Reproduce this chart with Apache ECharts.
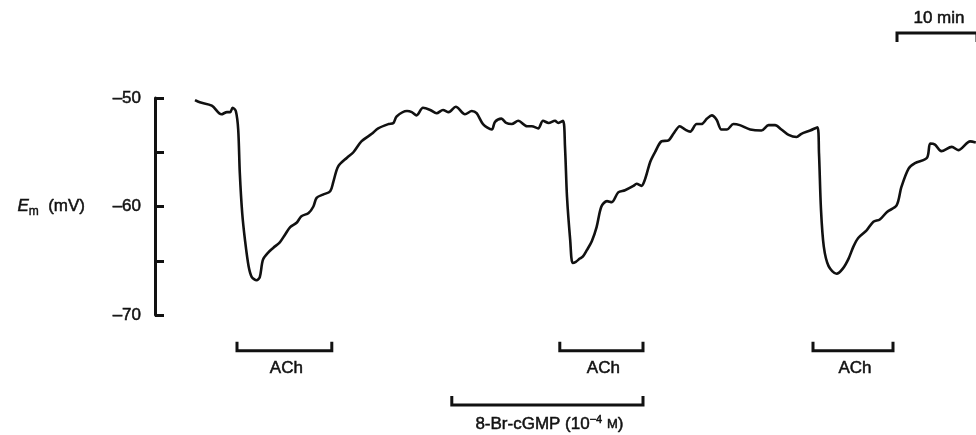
<!DOCTYPE html>
<html>
<head>
<meta charset="utf-8">
<script src="https://cdn.jsdelivr.net/npm/echarts@6/dist/echarts.min.js"></script>
<style>
  html, body { margin: 0; padding: 0; background: #fff; }
  #chart { width: 976px; height: 435px; }
</style>
</head>
<body>
<div id="chart"></div>
<script>
// 膜电位记录 时间(min) / 电位(mV)
const traceTime = [5.0, 5.6, 7.1, 8.3, 9.0, 9.4, 9.7, 10.1, 10.4, 10.6, 10.9, 11.25, 11.7, 12.1, 12.7, 13.1, 13.5, 14.2, 14.8, 15.6,
  16.25, 16.9, 17.7, 18.3, 19.2, 19.8, 20.2, 21.0, 21.9, 22.3, 22.9, 24.0, 24.8, 25.8, 27.1, 27.9, 29.2, 29.8, 30.2, 31.5,
  32.1, 32.7, 33.5, 34.4, 35.2, 36.0, 36.7, 37.6, 38.75, 39.6, 40.2, 41.0, 42.1, 42.5, 43.3, 43.9, 44.6, 45.4, 46.5, 47.1,
  47.9, 48.5, 49.2, 50.0, 50.4, 51.0, 51.25, 51.5, 51.9, 52.2, 52.6, 53.1, 53.5, 54.0, 54.6, 55.2, 55.8, 56.5, 57.1, 57.9,
  58.75, 59.8, 60.2, 60.8, 61.25, 61.9, 62.5, 63.3, 64.2, 64.8, 65.6, 66.25, 66.9, 67.7, 68.3, 69.0, 69.6, 70.2, 70.8, 71.5,
  72.3, 73.1, 74.4, 75.8, 76.7, 77.5, 78.3, 79.2, 80.2, 80.8, 81.9, 82.8, 83.0, 83.25, 83.6, 84.2, 85.2, 86.0, 86.7, 87.3,
  87.9, 88.95, 89.8, 90.6, 91.5, 92.7, 93.3, 94.2, 95.0, 96.5, 96.9, 97.5, 98.3, 99.6, 100.4, 101.9, 102.6]
const traceMv = [-50.2, -50.4, -50.7, -51.5, -51.3, -51.3, -50.9, -51.2, -52.9, -56.9, -60.6, -63.1, -65.5, -66.5, -66.8, -66.5, -64.9, -64.2, -63.8, -63.3,
  -62.6, -61.9, -61.5, -60.9, -60.6, -60.0, -59.2, -58.9, -58.6, -57.7, -56.3, -55.5, -55.0, -54.0, -53.3, -52.8, -52.4, -52.3, -51.7, -51.2,
  -51.3, -51.6, -50.9, -51.1, -51.4, -51.1, -51.3, -50.8, -51.5, -51.2, -51.4, -52.4, -52.9, -52.2, -51.9, -52.3, -52.4, -52.1, -52.6, -52.6,
  -52.8, -52.1, -52.3, -52.1, -52.3, -52.1, -54.5, -59.1, -63.1, -65.2, -65.1, -64.8, -64.6, -64.0, -63.2, -61.9, -60.0, -59.5, -59.6, -58.7,
  -58.5, -58.1, -57.9, -58.1, -57.5, -55.9, -55.0, -54.0, -53.9, -53.3, -52.6, -52.9, -53.1, -52.4, -52.4, -51.9, -51.6, -52.0, -52.9, -52.9,
  -52.4, -52.5, -52.9, -53.0, -52.5, -52.5, -52.9, -53.4, -53.6, -53.3, -53.0, -52.7, -55.1, -60.3, -63.7, -65.5, -66.2, -65.7, -64.8, -63.7,
  -62.9, -62.2, -61.4, -61.2, -60.5, -59.9, -58.2, -56.5, -56.0, -55.5, -54.2, -54.3, -54.9, -54.5, -54.8, -54.0, -54.1]

// 给药标记 / 时间标尺
const barStart = [10.25, 50.6, 37.1, 82.25, 92.75]
const barEnd = [22.1, 61.0, 61.0, 92.25, 102.75]
const barLevel = [-73.3, -73.3, -78.3, -73.3, -44.0]
const barText = ['ACh', 'ACh', '8-Br-cGMP (10{sup|\u22124} {sc|M})', 'ACh', '10 min']

const yTicks = [-70, -60, -50]

const font = 'Liberation Sans, Arial, sans-serif'
const ink = '#111'

const chart = echarts.init(document.getElementById('chart'))

const trace = traceTime.map((t, i) => [t, traceMv[i]])
const bars = barStart.map((s, i) => [s, barEnd[i], barLevel[i]])

chart.setOption({
  animation: false,
  backgroundColor: '#fff',
  grid: { left: 155, right: 0, top: 98, bottom: 120, containLabel: false },
  xAxis: {
    type: 'value',
    min: 0,
    max: 102.625,
    show: false
  },
  yAxis: {
    type: 'value',
    min: -70,
    max: -50,
    interval: 5,
    name: '{i|E}{s|m}  (mV)',
    nameLocation: 'middle',
    nameRotate: 0,
    nameGap: 70,
    nameTextStyle: {
      color: ink,
      fontFamily: font,
      fontSize: 17,
      textBorderColor: ink,
      textBorderWidth: 0.5,
      rich: {
        i: { fontStyle: 'italic', fontSize: 17, fontFamily: font, color: ink, textBorderColor: ink, textBorderWidth: 0.5 },
        s: { fontSize: 12, fontFamily: font, color: ink, textBorderColor: ink, textBorderWidth: 0.4, padding: [10, 0, 0, 0] }
      }
    },
    axisLine: { show: true, lineStyle: { color: ink, width: 3 } },
    axisTick: { show: true, inside: true, length: 9, lineStyle: { color: ink, width: 3 } },
    axisLabel: {
      margin: 14,
      color: ink,
      fontFamily: font,
      fontSize: 17,
      textBorderColor: ink,
      textBorderWidth: 0.5,
      formatter: v => yTicks.indexOf(v) >= 0 ? '\u2013' + Math.abs(v) : ''
    },
    splitLine: { show: false }
  },
  series: [
    {
      type: 'line',
      data: trace,
      showSymbol: false,
      smooth: 0.3,
      lineStyle: { color: ink, width: 2.6 }
    },
    {
      type: 'custom',
      clip: false,
      data: bars,
      encode: { x: [0, 1], y: 2 },
      renderItem: function(params, api) {
        const i = params.dataIndex
        const p0 = api.coord([api.value(0), api.value(2)])
        const p1 = api.coord([api.value(1), api.value(2)])
        const below = api.value(2) < -50
        const h = below ? -9 : 9
        return {
          type: 'group',
          children: [
            {
              type: 'polyline',
              shape: { points: [[p0[0], p0[1] + h], p0, p1, [p1[0], p1[1] + h]] },
              style: { stroke: ink, lineWidth: 3, fill: null, lineJoin: 'miter' }
            },
            {
              type: 'text',
              x: (p0[0] + p1[0]) / 2 + 2,
              y: below ? p0[1] + 9 : p0[1] - 6,
              style: {
                text: barText[i],
                fill: ink,
                font: '17px ' + font,
                stroke: ink,
                lineWidth: 0.5,
                align: 'center',
                verticalAlign: below ? 'top' : 'bottom',
                rich: {
                  sup: { fontSize: 11, fontFamily: font, fill: ink, padding: [0, 0, 9, 0] },
                  sc: { fontSize: 13, fontFamily: font, fill: ink }
                }
              }
            }
          ]
        }
      }
    }
  ]
})
</script>
</body>
</html>
